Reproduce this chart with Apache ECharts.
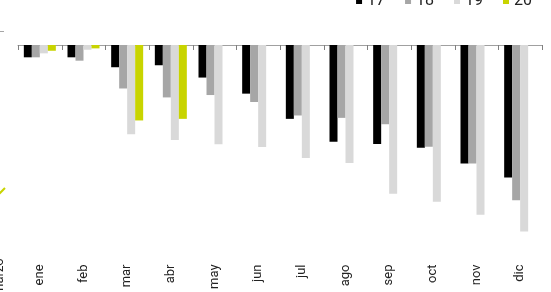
<!DOCTYPE html>
<html>
<head>
<meta charset="utf-8">
<script src="https://cdn.jsdelivr.net/npm/echarts@6/dist/echarts.min.js"></script>
<style>html,body{margin:0;padding:0;background:#fff;}#c{width:551px;height:292px;}</style>
</head>
<body>
<div id="c"></div>
<script>
var categories = ['ene','feb','mar','abr','may','jun','jul','ago','sep','oct','nov','dic'];
var s17 = [-6.2,-6.2,-11.2,-10.2,-16.4,-24.5,-37.2,-48.7,-49.9,-51.7,-59.7,-66.7];
var s18 = [-6.2,-7.9,-21.9,-26.4,-25.2,-28.7,-35.5,-36.7,-39.9,-51.2,-59.7,-78.2];
var s19 = [-4.2,-2.4,-44.9,-47.9,-50.0,-51.4,-56.9,-59.4,-74.9,-79.0,-85.5,-93.9];
var s20 = [-2.9,-1.7,-38.0,-37.2,null,null,null,null,null,null,null,null];
var seriesNames = ['17','18','19','20'];
var colors = ['#000000','#a6a6a6','#d9d9d9','#c8d400'];

var font = 'Roboto, "DejaVu Sans", sans-serif';
var chart = echarts.init(document.getElementById('c'));
var data = [s17, s18, s19, s20];
var baseGraphic = [
  {type: 'text', x: 0, y: 295, rotation: Math.PI/2,
   style: {text: 'marzo', fontSize: 13, fill: '#222', fontFamily: font, align: 'left', verticalAlign: 'middle'}},
  {type: 'line', shape: {x1: -1, y1: 194, x2: 5, y2: 188}, style: {stroke: '#c8d400', lineWidth: 2}},
  {type: 'line', shape: {x1: 0, y1: 31.5, x2: 4, y2: 31.5}, style: {stroke: '#a6a6a6', lineWidth: 1}}
];
chart.setOption({
  animation: false,
  color: colors,
  legend: {
    top: -7, right: 19, padding: 0,
    itemWidth: 6, itemHeight: 6, itemGap: 20,
    icon: 'rect',
    textStyle: {fontSize: 16, color: '#222', fontFamily: font},
    data: seriesNames
  },
  grid: {left: 18, right: 9, top: 45, bottom: 37},
  xAxis: [{
    type: 'category', data: categories, position: 'top',
    axisLine: {show: true, onZero: false, lineStyle: {color: '#a0a0a0', width: 1}},
    axisTick: {show: false},
    axisLabel: {show: false}
  }, {
    type: 'category', data: categories, position: 'bottom',
    axisLine: {show: false, onZero: false}, axisTick: {show: false},
    axisLabel: {rotate: 90, margin: 11, interval: 0, fontSize: 13, color: '#222', fontFamily: font}
  }],
  yAxis: {
    type: 'value', min: -105, max: 0,
    axisLine: {show: false}, axisTick: {show: false}, axisLabel: {show: false},
    splitLine: {show: false}
  },
  graphic: baseGraphic,
  series: data.map(function (d, i) {
    return {
      name: seriesNames[i], type: 'bar', data: d,
      xAxisIndex: 1, barWidth: 8, barGap: '0%',
      itemStyle: {color: colors[i]}
    };
  })
});

// axis ticks at category boundaries, positioned through the axis scale
var c0 = chart.convertToPixel({xAxisIndex: 1}, categories[0]);
var c1 = chart.convertToPixel({xAxisIndex: 1}, categories[1]);
var y0 = chart.convertToPixel({yAxisIndex: 0}, 0);
if (!isFinite(c0) || !isFinite(c1)) { c0 = 18 + 524 / 24; c1 = c0 + 524 / 12; }
if (!isFinite(y0)) { y0 = 45; }
var band = c1 - c0;
var ticks = [];
for (var k = 0; k <= categories.length; k++) {
  var x = Math.round(c0 - band / 2 + k * band) + 0.5;
  ticks.push({type: 'line', silent: true, z: 100,
    shape: {x1: x, y1: Math.round(y0), x2: x, y2: Math.round(y0) + 5},
    style: {stroke: '#808080', lineWidth: 1}});
}
chart.setOption({graphic: {elements: baseGraphic.concat(ticks)}});
</script>
</body>
</html>
